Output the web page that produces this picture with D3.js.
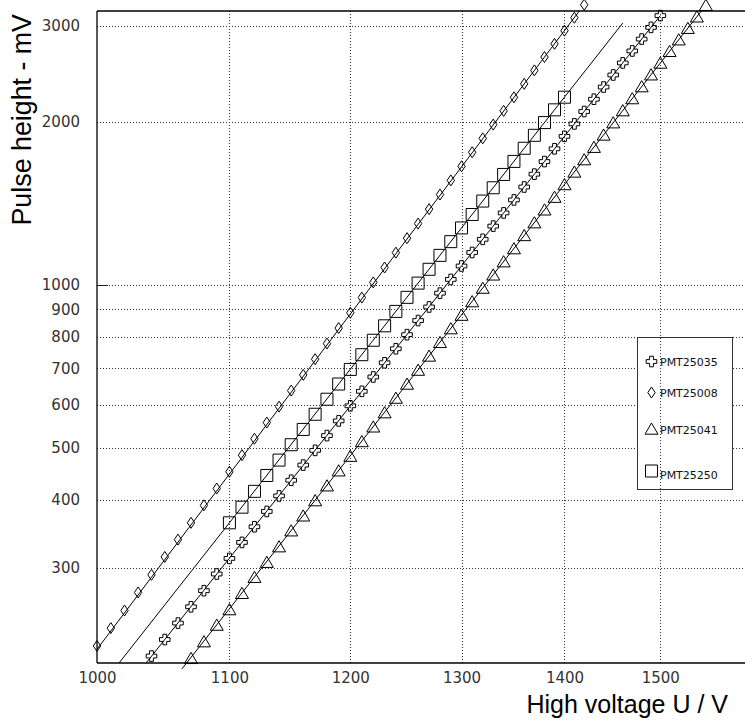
<!DOCTYPE html>
<html>
<head>
<meta charset="utf-8">
<script src="https://cdn.jsdelivr.net/npm/d3@7"></script>
<style>
  html, body { margin: 0; padding: 0; background: #fff; }
  svg { display: block; }
</style>
</head>
<body>
<svg id="chart" width="745" height="722"></svg>
<script>
// Gain curves: pulse height versus high voltage for four photomultipliers (log-log)

const voltsPMT25008 = [1000, 1010, 1020, 1030, 1040, 1050, 1060, 1070, 1080, 1090,
  1100, 1110, 1120, 1130, 1140, 1150, 1160, 1170, 1180, 1190,
  1200, 1210, 1220, 1230, 1240, 1250, 1260, 1270, 1280, 1290,
  1300, 1310, 1320, 1330, 1340, 1350, 1360, 1370, 1380, 1390,
  1400, 1410, 1420];
const pulsePMT25008 = [215, 232, 250, 270, 291, 314, 338, 363, 391, 420,
  451, 484, 519, 556, 595, 637, 681, 728, 778, 831,
  887, 946, 1009, 1075, 1145, 1218, 1296, 1378, 1466, 1557,
  1653, 1755, 1862, 1974, 2093, 2217, 2348, 2486, 2631, 2783,
  2943, 3110, 3286];

const voltsPMT25250 = [1100, 1110, 1120, 1130, 1140, 1150, 1160, 1170, 1180, 1190,
  1200, 1210, 1220, 1230, 1240, 1250, 1260, 1270, 1280, 1290,
  1300, 1310, 1320, 1330, 1340, 1350, 1360, 1370, 1380, 1390,
  1400];
const pulsePMT25250 = [363, 388, 415, 444, 474, 506, 540, 576, 614, 655,
  697, 742, 789, 839, 892, 947, 1006, 1067, 1132, 1200,
  1272, 1347, 1426, 1509, 1597, 1688, 1785, 1886, 1991, 2102,
  2218];

const voltsPMT25035 = [1040, 1050, 1060, 1070, 1080, 1090, 1100, 1110, 1120, 1130,
  1140, 1150, 1160, 1170, 1180, 1190, 1200, 1210, 1220, 1230,
  1240, 1250, 1260, 1270, 1280, 1290, 1300, 1310, 1320, 1330,
  1340, 1350, 1360, 1370, 1380, 1390, 1400, 1410, 1420, 1430,
  1440, 1450, 1460, 1470, 1480, 1490, 1500];
const pulsePMT25035 = [206, 221, 237, 254, 272, 292, 312, 334, 357, 381,
  407, 435, 464, 494, 526, 560, 597, 635, 675, 717,
  761, 808, 858, 909, 964, 1022, 1082, 1146, 1212, 1282,
  1356, 1433, 1514, 1599, 1687, 1781, 1878, 1980, 2087, 2199,
  2316, 2438, 2566, 2700, 2840, 2985, 3138];

const voltsPMT25041 = [1070, 1080, 1090, 1100, 1110, 1120, 1130, 1140, 1150, 1160,
  1170, 1180, 1190, 1200, 1210, 1220, 1230, 1240, 1250, 1260,
  1270, 1280, 1290, 1300, 1310, 1320, 1330, 1340, 1350, 1360,
  1370, 1380, 1390, 1400, 1410, 1420, 1430, 1440, 1450, 1460,
  1470, 1480, 1490, 1500, 1510, 1520, 1530, 1540, 1550];
const pulsePMT25041 = [204, 219, 235, 251, 269, 288, 307, 328, 351, 374,
  399, 425, 453, 482, 513, 546, 580, 617, 655, 695,
  738, 782, 829, 878, 930, 985, 1042, 1102, 1165, 1232,
  1301, 1374, 1450, 1530, 1614, 1701, 1793, 1889, 1990, 2095,
  2205, 2320, 2440, 2565, 2696, 2832, 2974, 3122, 3279];

// Straight-line fits (end points in volts / mV)
const fitPMT25008 = [[1000, 212], [1415, 3200]];
const fitPMT25250 = [[1016, 200], [1460, 3040]];
const fitPMT25035 = [[1036, 200], [1500, 3138]];
const fitPMT25041 = [[1063, 195], [1545, 3200]];

const xTicks = [1000, 1100, 1200, 1300, 1400, 1500];
const yTicks = [300, 400, 500, 600, 700, 800, 900, 1000, 2000, 3000];

const legendNames = ["PMT25035", "PMT25008", "PMT25041", "PMT25250"];

const series = [
  { name: "PMT25035", marker: "cross",    volts: voltsPMT25035, pulse: pulsePMT25035, fit: fitPMT25035 },
  { name: "PMT25008", marker: "diamond",  volts: voltsPMT25008, pulse: pulsePMT25008, fit: fitPMT25008 },
  { name: "PMT25041", marker: "triangle", volts: voltsPMT25041, pulse: pulsePMT25041, fit: fitPMT25041 },
  { name: "PMT25250", marker: "square",   volts: voltsPMT25250, pulse: pulsePMT25250, fit: fitPMT25250 }
];

const plotLeft = 97, plotRight = 750, plotTop = 11, plotBottom = 663;

const x = d3.scaleLog().domain([1000, 1600]).range([plotLeft, plotRight]);
const y = d3.scaleLog().domain([200, 3200]).range([plotBottom, plotTop]);

const svg = d3.select("#chart");
svg.append("rect").attr("width", 745).attr("height", 722).attr("fill", "#fff");

const tickFont = "'DejaVu Sans', sans-serif";

// Marker outlines, centred on the data point
function markerPath(type) {
  switch (type) {
    case "square":   return "M-6,-6H6V6H-6Z";
    case "diamond":  return "M0,-5.5L3.7,0L0,5.5L-3.7,0Z";
    case "triangle": return "M0,-6L6.5,5.2L-6.5,5.2Z";
    case "cross": {
      const s = 5.3, a = 1.9;
      return `M${-a},${-s}H${a}V${-a}H${s}V${a}H${a}V${s}H${-a}V${a}H${-s}V${-a}H${-a}Z`;
    }
  }
}

// Horizontal grid + y labels
const yAxis = svg.append("g")
  .attr("transform", `translate(${plotLeft},0)`)
  .call(d3.axisLeft(y)
    .tickValues(yTicks)
    .tickFormat(d3.format("d"))
    .tickSize(-(plotRight - plotLeft))
    .tickSizeOuter(0)
    .tickPadding(17));
yAxis.select(".domain").remove();
yAxis.selectAll(".tick line")
  .attr("stroke", "#333")
  .attr("stroke-dasharray", "1,2")
  .attr("shape-rendering", "crispEdges");
yAxis.selectAll(".tick text")
  .attr("font-family", tickFont)
  .attr("font-size", 15)
  .attr("fill", "#333");

// Legend frame (opaque, sits over the horizontal grid)
const lg = { x: 637, y: 337.5, w: 95, h: 152 };
svg.append("rect")
  .attr("x", lg.x + 0.5).attr("y", lg.y)
  .attr("width", lg.w).attr("height", lg.h)
  .attr("fill", "#fff")
  .attr("stroke", "#333")
  .attr("stroke-width", 1);

// Vertical grid + x labels
const xAxis = svg.append("g")
  .attr("transform", `translate(0,${plotBottom})`)
  .call(d3.axisBottom(x)
    .tickValues(xTicks)
    .tickFormat(d3.format("d"))
    .tickSize(-(plotBottom - plotTop))
    .tickSizeOuter(0)
    .tickPadding(9));
xAxis.select(".domain").remove();
xAxis.selectAll(".tick line")
  .attr("stroke", "#333")
  .attr("stroke-dasharray", "1,2")
  .attr("shape-rendering", "crispEdges")
  .filter(d => d === 1000).remove();
xAxis.selectAll(".tick text")
  .attr("font-family", tickFont)
  .attr("font-size", 15)
  .attr("fill", "#333");

// Frame
const frame = svg.append("g").attr("stroke", "#000").attr("stroke-width", 1.3).attr("fill", "none");
frame.append("line").attr("x1", plotLeft).attr("x2", plotLeft).attr("y1", plotTop).attr("y2", plotBottom);
frame.append("line").attr("x1", plotLeft).attr("x2", 745).attr("y1", plotBottom).attr("y2", plotBottom);
frame.append("line").attr("x1", plotLeft).attr("x2", 745).attr("y1", plotTop).attr("y2", plotTop);
// Major tick at 1000 mV
frame.append("line").attr("x1", plotLeft).attr("x2", plotLeft + 11)
  .attr("y1", Math.round(y(1000)) + 0.5).attr("y2", Math.round(y(1000)) + 0.5)
  .attr("stroke-width", 1).attr("stroke", "#222");

// Fit lines
const line = d3.line().x(d => x(d[0])).y(d => y(d[1]));
svg.append("g").selectAll("path")
  .data(series)
  .join("path")
  .attr("d", s => line(s.fit))
  .attr("fill", "none")
  .attr("stroke", "#000")
  .attr("stroke-width", 1);

// Data markers
series.forEach(s => {
  svg.append("g").selectAll("path")
    .data(s.volts.map((v, i) => [v, s.pulse[i]]))
    .join("path")
    .attr("transform", d => `translate(${x(d[0])},${y(d[1])})`)
    .attr("d", markerPath(s.marker))
    .attr("fill", "none")
    .attr("stroke", "#000")
    .attr("stroke-width", 1);
});

// Legend entries
const legendRows = [361.5, 392.5, 429, 471];
const legendTextY = [362, 393.5, 430, 475];
legendNames.forEach((name, i) => {
  const s = series.find(d => d.name === name);
  svg.append("path")
    .attr("transform", `translate(651.5,${legendRows[i]})`)
    .attr("d", markerPath(s.marker))
    .attr("fill", "none")
    .attr("stroke", "#000")
    .attr("stroke-width", 1);
  svg.append("text")
    .attr("x", 660)
    .attr("y", legendTextY[i])
    .attr("dy", "0.36em")
    .attr("font-family", tickFont)
    .attr("font-size", 11)
    .attr("fill", "#111")
    .text(name);
});

// Axis titles
svg.append("text")
  .attr("transform", "translate(31,14) rotate(-90)")
  .attr("text-anchor", "end")
  .attr("font-family", "'Liberation Sans', Arial, sans-serif")
  .attr("font-size", 26.8)
  .attr("fill", "#000")
  .text("Pulse height - mV");

svg.append("text")
  .attr("x", 728)
  .attr("y", 713)
  .attr("text-anchor", "end")
  .attr("font-family", "'Liberation Sans', Arial, sans-serif")
  .attr("font-size", 25)
  .attr("fill", "#000")
  .text("High voltage U / V");
</script>
</body>
</html>
